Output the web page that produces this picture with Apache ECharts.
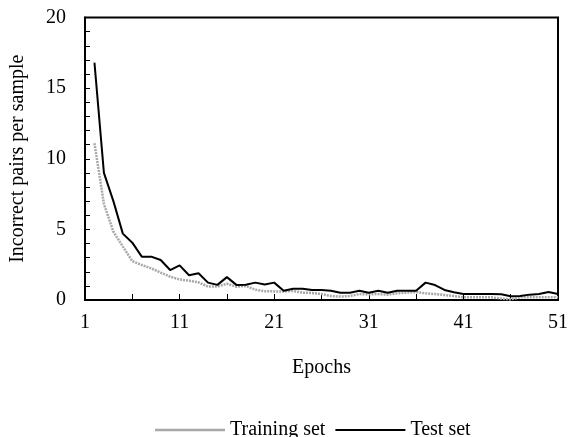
<!DOCTYPE html>
<html>
<head>
<meta charset="utf-8">
<script src="https://cdn.jsdelivr.net/npm/echarts@6/dist/echarts.min.js"></script>
<style>
html,body{margin:0;padding:0;background:#fff;}
#chart{width:571px;height:437px;}
</style>
</head>
<body>
<div id="chart"></div>
<script>
const epochs = Array.from({length: 51}, (_, i) => String(i + 1));
const trainingSet = [null,
  11.1, 6.8, 4.84, 3.78, 2.75, 2.48, 2.24, 1.94, 1.65, 1.45,
  1.37, 1.25, 0.95, 0.95, 1.15, 0.94, 0.99, 0.73, 0.62, 0.61,
  0.61, 0.64, 0.52, 0.5, 0.42, 0.28, 0.24, 0.28, 0.42, 0.4,
  0.42, 0.38, 0.47, 0.52, 0.57, 0.47, 0.42, 0.35, 0.28, 0.19,
  0.19, 0.19, 0.19, 0.09, 0.05, 0.19, 0.19, 0.19, 0.19, 0.19];
const testSet = [null,
  16.8, 9.0, 7.0, 4.7, 4.06, 3.07, 3.07, 2.83, 2.12, 2.45,
  1.75, 1.89, 1.23, 1.07, 1.62, 1.07, 1.08, 1.23, 1.1, 1.23,
  0.66, 0.8, 0.8, 0.7, 0.7, 0.66, 0.52, 0.52, 0.66, 0.52,
  0.66, 0.52, 0.66, 0.66, 0.66, 1.23, 1.06, 0.71, 0.55, 0.42,
  0.42, 0.42, 0.42, 0.4, 0.26, 0.28, 0.38, 0.42, 0.56, 0.42];

const FONT = 'Liberation Serif';
const FS = 20;
const chart = echarts.init(document.getElementById('chart'));
chart.setOption({
  animation: false,
  textStyle: {fontFamily: FONT, color: '#000'},
  grid: {left: 81, right: 8, top: 17.5, bottom: 137, show: true, borderColor: '#000', borderWidth: 2, backgroundColor: 'transparent'},
  legend: {
    left: 150, top: 415,
    itemWidth: 70, itemHeight: 10, itemGap: 10,
    textStyle: {fontFamily: FONT, fontSize: FS, color: '#000'},
    data: [
      {name: 'Training set', icon: 'path://M0,0L70,0L70,2.5L0,2.5Z', itemStyle: {color: '#a8a8a8'}},
      {name: 'Test set', icon: 'path://M0,0L70,0L70,2L0,2Z', itemStyle: {color: '#000'}}
    ]
  },
  xAxis: {
    type: 'category', data: epochs, boundaryGap: false,
    name: 'Epochs', nameLocation: 'middle', nameGap: 58,
    nameTextStyle: {fontFamily: FONT, fontSize: FS, color: '#000'},
    axisLine: {lineStyle: {color: '#000', width: 2}},
    axisTick: {inside: true, length: 6, interval: 4, lineStyle: {color: '#000', width: 1}},
    axisLabel: {interval: 9, margin: 13, fontFamily: FONT, fontSize: FS, color: '#000'},
    splitLine: {show: false}
  },
  yAxis: {
    type: 'value', min: 0, max: 20, interval: 1,
    name: 'Incorrect pairs per sample', nameLocation: 'middle', nameGap: 57, nameRotate: 90,
    nameTextStyle: {fontFamily: FONT, fontSize: FS, color: '#000'},
    axisLine: {show: true, lineStyle: {color: '#000', width: 2}},
    axisTick: {show: true, inside: true, length: 5, lineStyle: {color: '#000', width: 1}},
    axisLabel: {margin: 19, fontFamily: FONT, fontSize: FS, color: '#000',
      formatter: v => (v % 5 === 0 ? String(v) : '')},
    splitLine: {show: false}
  },
  series: [
    {name: 'Training set', type: 'line', data: trainingSet, showSymbol: false, symbol: 'none',
     lineStyle: {color: '#a8a8a8', width: 2.5, type: [2, 1]}, itemStyle: {color: '#a8a8a8'}},
    {name: 'Test set', type: 'line', data: testSet, showSymbol: false, symbol: 'none',
     lineStyle: {color: '#000', width: 2}, itemStyle: {color: '#000'}}
  ]
});
</script>
</body>
</html>
